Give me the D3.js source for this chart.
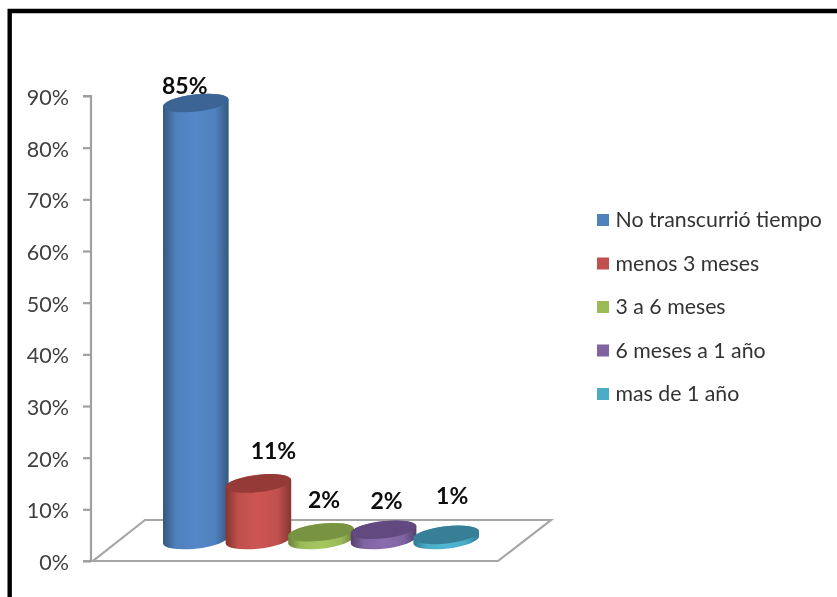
<!DOCTYPE html>
<html><head><meta charset="utf-8">
<script src="https://cdn.jsdelivr.net/npm/d3@7"></script>
<style>html,body{margin:0;padding:0;background:#fff;overflow:hidden}svg{display:block;filter:blur(.4px)}text{font-family:Lato,"Open Sans",sans-serif}</style>
</head><body><svg id="c" width="837" height="597"></svg>
<script>
const categories=["No transcurrió tiempo","menos 3 meses","3 a 6 meses","6 meses a 1 año","mas de 1 año"];
const values=[85,11,1.5,2,1];
const valueLabels=["85%","11%","2%","2%","1%"];
const tickValues=[0,10,20,30,40,50,60,70,80,90];
const baseColors=["#4f81bd","#c0504d","#9bbb59","#8064a2","#4bacc6"];
const midColors=["#5487c8","#cd5552","#a5c75f","#8a6cae","#50b7d3"];
const edgeColors=["#35587f","#84352f","#6a8239","#553f6d","#2f7a90"];
const lidColors=["#3c6595","#953a37","#789342","#624a80","#367f96"];
const labelOffsets=[[-11,-18],[15,-32.5],[3,-33],[3,-29],[6,-39]];

const svg=d3.select("#c");
const y=d3.scaleLinear().domain([0,90]).range([561,96]);
const x=d3.scaleBand().domain(categories).range([164.5,477.5]);
const height=d3.scaleLinear().domain([0,85]).range([0,437]);
const baseY=540, rx=33, ry=8.6, deg=-6.5, th=deg*Math.PI/180;

// frame
svg.append("path").attr("d","M837,11H9.7V597").attr("fill","none").attr("stroke","#000").attr("stroke-width",4.4);

// floor
const floor=[[93,561],[498,561],[551,520],[145,520]];
svg.append("path").attr("d",d3.line()(floor)+"Z").attr("fill","#fff").attr("stroke","#a6a6a6").attr("stroke-width",2.2);

// axis
const axis=d3.axisLeft(y).tickValues(tickValues).tickFormat(d=>d+"%").tickSize(8).tickPadding(14);
const ag=svg.append("g").attr("transform","translate(91,0)").call(axis);
ag.selectAll("line,path").attr("stroke","#a0a0a0").attr("stroke-width",2.2);
ag.select(".domain").attr("d","M-8,96H0V561H-8");
ag.selectAll("text").attr("font-size",21.5).attr("fill","#404040").attr("font-family","Lato").attr("dy","0.39em");

// gradients
const defs=svg.append("defs");
categories.forEach((c,i)=>{
  const g=defs.append("linearGradient").attr("id","g"+i).attr("x1",0).attr("x2",1).attr("y1",0).attr("y2",0);
  [[0,edgeColors[i]],[.2,baseColors[i]],[.5,midColors[i]],[.8,baseColors[i]],[1,edgeColors[i]]]
    .forEach(s=>g.append("stop").attr("offset",s[0]).attr("stop-color",s[1]));
});

// cylinders
const W=Math.sqrt(rx*rx*Math.cos(th)**2+ry*ry*Math.sin(th)**2);
const dy=(rx*rx-ry*ry)*Math.sin(th)*Math.cos(th)/W;
const bars=svg.append("g").selectAll("g").data(values).join("g");
bars.each(function(v,i){
  const cx=x(categories[i])+x.bandwidth()/2, top=baseY-height(v), g=d3.select(this);
  const side=`M${cx-W},${top-dy}L${cx-W},${baseY-dy}A${rx},${ry} ${deg} 0 0 ${cx+W},${baseY+dy}L${cx+W},${top+dy}A${rx},${ry} ${deg} 0 0 ${cx-W},${top-dy}Z`;
  g.append("path").attr("d",side).attr("fill",`url(#g${i})`);
  g.append("ellipse").attr("cx",cx).attr("cy",top).attr("rx",rx).attr("ry",ry)
    .attr("transform",`rotate(${deg} ${cx} ${top})`).attr("fill",lidColors[i]);
  g.append("text").attr("x",cx+labelOffsets[i][0]).attr("y",top+labelOffsets[i][1]+8.5)
    .attr("text-anchor","middle").attr("font-size",23).attr("font-weight",700).attr("fill","#0d0d0d").text(valueLabels[i]);
});

// legend
const leg=d3.scalePoint().domain(categories).range([220,394]);
const lg=svg.append("g").selectAll("g").data(categories).join("g").attr("transform",d=>`translate(597,${leg(d)})`);
lg.append("rect").attr("y",-6).attr("width",12).attr("height",12).attr("fill",(d,i)=>baseColors[i]);
lg.append("text").attr("x",18.5).attr("y",7).attr("font-size",21.3).attr("fill","#333").text(d=>d);
</script></body></html>
